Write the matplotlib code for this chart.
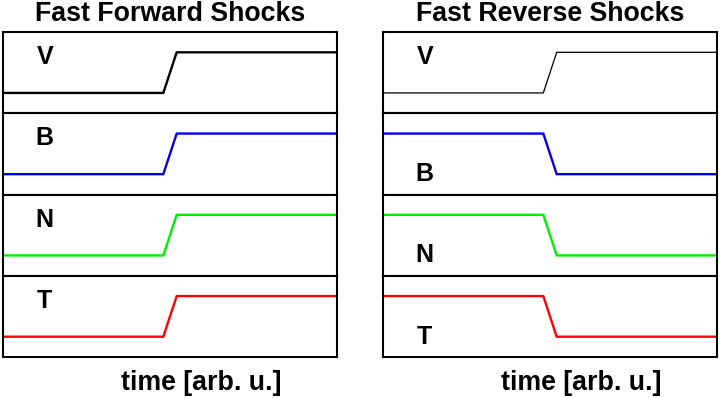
import matplotlib
matplotlib.use("Agg")
import matplotlib.pyplot as plt

plt.rcParams['font.family'] = ['Liberation Sans', 'DejaVu Sans']

# Data
time = [0.0, 0.48, 0.52, 1.0]
rise = [0.25, 0.25, 0.75, 0.75]
fall = [0.75, 0.75, 0.25, 0.25]
quantities = ["V", "B", "N", "T"]
colors = ["black", "#0000ee", "#00ee00", "#ff0000"]
forward_profiles = [rise, rise, rise, rise]
reverse_profiles = [rise, fall, fall, fall]
titles = ["Fast Forward Shocks", "Fast Reverse Shocks"]
xlabel = "time [arb. u.]"

W, H = 720, 398
fig = plt.figure(figsize=(W / 100, H / 100), dpi=100)

panels = [(3, forward_profiles, [1.7, 1.7, 1.7, 1.7]),
          (383, reverse_profiles, [0.9, 1.7, 1.7, 1.7])]
top, bottom = 32, 357
ph = (bottom - top) / 4
pw = 334

for p, (x0, profiles, lws) in enumerate(panels):
    for i, q in enumerate(quantities):
        y_top = top + i * ph
        ax = fig.add_axes([x0 / W, 1 - (y_top + ph) / H, pw / W, ph / H])
        ax.plot(time, profiles[i], color=colors[i], lw=lws[i], solid_joinstyle='miter')
        ax.set_xlim(0, 1)
        ax.set_ylim(0, 1)
        ax.set_xticks([])
        ax.set_yticks([])
        for s in ax.spines.values():
            s.set_linewidth(1.5)
            s.set_color("black")
        ly = 0.69 if profiles[i][0] < 0.5 else 0.25
        ax.text(0.125, ly, q, transform=ax.transAxes, ha="center", va="center",
                fontsize=18, fontweight="bold")
    fig.text((x0 + pw / 2) / W, 1 - 14 / H, titles[p], ha="center", va="center",
             fontsize=19.3, fontweight="bold")
    fig.text((x0 + pw / 2 + 31) / W, 1 - 383 / H, xlabel, ha="center", va="center",
             fontsize=19.3, fontweight="bold")

fig.savefig("out.png", dpi=100)
